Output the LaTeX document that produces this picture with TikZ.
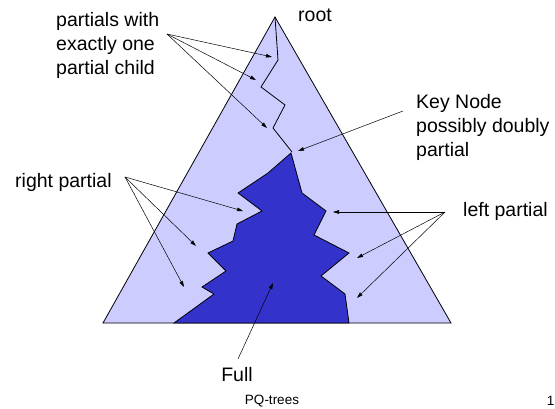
\documentclass[tikz,border=0pt]{standalone}
\usepackage{fontspec}
\setmainfont{Liberation Sans}
\usepackage{xcolor}
\usetikzlibrary{arrows.meta}
\definecolor{partialblue}{RGB}{204,204,255}
\definecolor{fullblue}{RGB}{51,51,204}

\begin{document}
\begin{tikzpicture}[x=1pt,y=-1pt,
    lbl/.style={inner sep=0pt,align=left,font=\fontsize{19.5}{24}\selectfont},
    ptr/.style={-{Triangle[length=6pt,width=3.6pt]},line width=0.5pt}]
        \useasboundingbox (0,0) rectangle (555,409);

        %------------------
        % tree triangle
        %------------------

        \filldraw[fill=partialblue,draw=black,line width=0.8pt]
          (275,17) -- (103,323) -- (451,323) -- cycle;

        % full part
        \filldraw[fill=fullblue,draw=black,line width=0.8pt]
          (291,153) -- (302,193) -- (326,211) -- (314,235) -- (349,253)
          -- (321,276) -- (345,294) -- (349,323) -- (174,323)
          -- (214,294) -- (202,287) -- (226,271) -- (208,253)
          -- (233,241) -- (237,224) -- (262,211) -- (238,193)
          -- (268,173) -- cycle;

        % path of partials from the root
        \draw[line width=0.8pt] (275,17) -- (278,60) -- (261,87)
          -- (285,105) -- (273,128) -- (292,152);

        %------------------
        % labels
        %------------------

        \node[lbl,anchor=west] (root) at (298,15) {root};
        \node[lbl,anchor=west] (single) at (56,45)
          {partials with\\exactly one\\partial child};
        \node[lbl,anchor=west] (key) at (416,127)
          {Key Node\\possibly doubly\\partial};
        \node[lbl,anchor=west] (right) at (15,182) {right partial};
        \node[lbl,anchor=west] (left) at (463,211) {left partial};
        \node[lbl] (full) at (237,375) {Full};
        \node[inner sep=0pt,font=\fontsize{13.5}{16}\selectfont] (title) at (272,401) {PQ-trees};
        \node[inner sep=0pt,anchor=east,font=\fontsize{13.5}{16}\selectfont] (page) at (554.5,401) {1};

        %------------------
        % arrows
        %------------------

        \coordinate (s1) at (167,34);
        \coordinate (s2) at (403,111);
        \coordinate (s3) at (125,177);
        \coordinate (s4) at (445,212);
        \coordinate (s5) at (238,359);

        \coordinate (a1) at (272,57);
        \coordinate (a2) at (256,80);
        \coordinate (a3) at (267,128);
        \coordinate (k1) at (298,151);
        \coordinate (r1) at (243,211);
        \coordinate (r2) at (196,246);
        \coordinate (r3) at (184,287);
        \coordinate (l1) at (333,212);
        \coordinate (l2) at (357,258);
        \coordinate (l3) at (357,298);
        \coordinate (f1) at (273,283);

        \foreach \t in {a1,a2,a3} \draw[ptr] (s1) -- (\t);
        \draw[ptr] (s2) -- (k1);
        \foreach \t in {r1,r2,r3} \draw[ptr] (s3) -- (\t);
        \foreach \t in {l1,l2,l3} \draw[ptr] (s4) -- (\t);
        \draw[ptr] (s5) -- (f1);
      \end{tikzpicture}
\end{document}
